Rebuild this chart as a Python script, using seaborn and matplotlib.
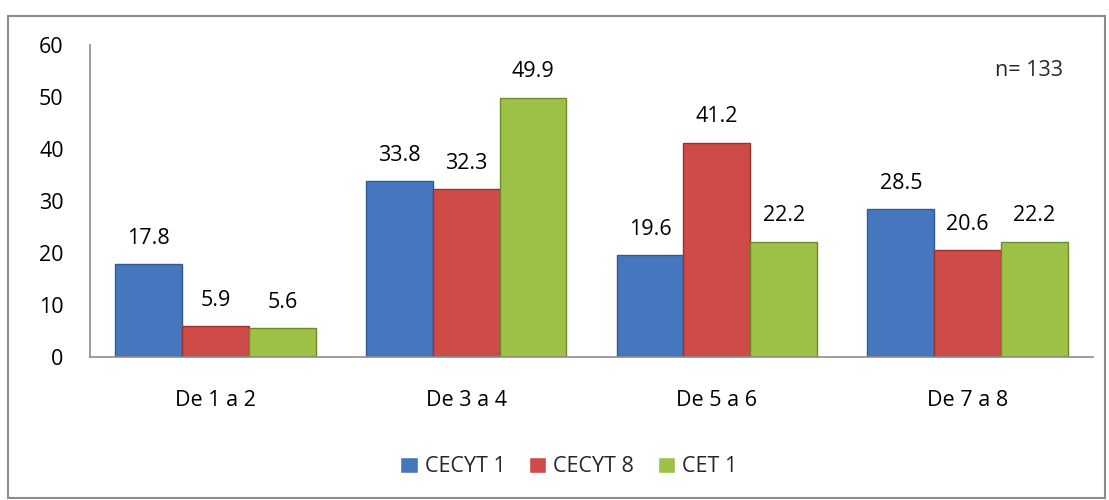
import numpy as np
import pandas as pd
import matplotlib
matplotlib.use("Agg")
import matplotlib.pyplot as plt
import seaborn as sns
from matplotlib.patches import Rectangle

# datos
categorias = ["De 1 a 2", "De 3 a 4", "De 5 a 6", "De 7 a 8"]
escuelas = ["CECYT 1", "CECYT 8", "CET 1"]
cecyt1 = [17.8, 33.8, 19.6, 28.5]
cecyt8 = [5.9, 32.3, 41.2, 20.6]
cet1 = [5.6, 49.9, 22.2, 22.2]
nota = "n= 133"

colores = ["#4677BE", "#CF4B48", "#9DC046"]
bordes = ["#2F5A94", "#9A3230", "#6E8B2C"]

df = pd.DataFrame({
    "Rango": categorias * 3,
    "Escuela": [e for e in escuelas for _ in categorias],
    "Valor": cecyt1 + cecyt8 + cet1,
})

sns.set_style("white")
plt.rcParams["font.family"] = ["Open Sans", "DejaVu Sans"]
fs = 15.5

fig = plt.figure(figsize=(11.09, 5.0), dpi=100)
ax = fig.add_axes([0.0812, 0.286, 0.9044, 0.624])

sns.barplot(data=df, x="Rango", y="Valor", hue="Escuela", palette=colores,
            width=0.8, saturation=1, ax=ax, legend=True)

# bordes y etiquetas
for i, cont in enumerate(ax.containers):
    for bar in cont:
        bar.set_edgecolor(bordes[i])
        bar.set_linewidth(1.0)
    ax.bar_label(cont, labels=[f"{v:.1f}" for v in cont.datavalues],
                 padding=11, fontsize=fs, color="black")

ax.set_ylim(0, 60)
ax.set_xlim(-0.5, 3.5)
ax.set_yticks(range(0, 61, 10))
ax.set_xlabel("")
ax.set_ylabel("")
ax.tick_params(axis="both", labelsize=fs, length=0, colors="black")
ax.tick_params(axis="y", pad=19)
ax.tick_params(axis="x", pad=24)
for s in ["top", "right"]:
    ax.spines[s].set_visible(False)
for s in ["left", "bottom"]:
    ax.spines[s].set_color("#8C8C8C")
    ax.spines[s].set_linewidth(1.2)

ax.text(0.97, 0.917, nota, transform=ax.transAxes, ha="right", va="center",
        fontsize=fs)

leg = ax.legend(loc="center", bbox_to_anchor=(0.513, 0.066), bbox_transform=fig.transFigure,
                ncol=3, frameon=False, fontsize=fs, handlelength=0.8,
                handleheight=0.8, handletextpad=0.33, columnspacing=1.1)

# marco exterior
fig.patches.append(Rectangle((0.0072, 0.004), 0.9892, 0.964, transform=fig.transFigure,
                             fill=False, edgecolor="#8C8C8C", linewidth=1.5))

fig.savefig("out.png", dpi=100)
